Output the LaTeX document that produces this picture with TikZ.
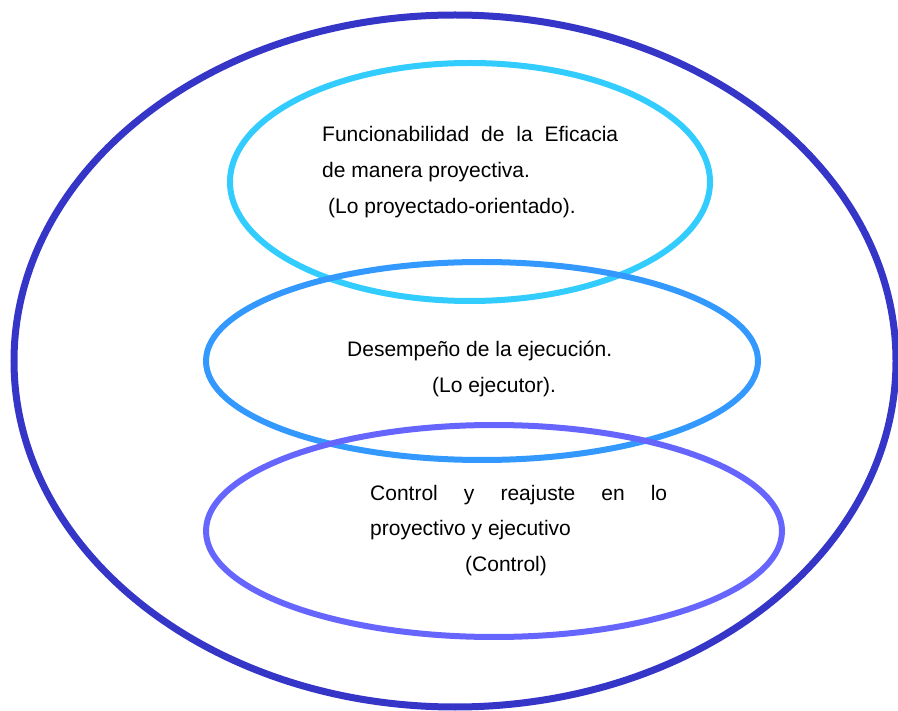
\documentclass[tikz,border=0pt]{standalone}
\usepackage{fontspec}
\setmainfont{Liberation Sans}
\usepackage{tikz}
\usetikzlibrary{shapes.geometric,positioning}
\definecolor{outerblue}{HTML}{3535C8}
\definecolor{ringcyan}{HTML}{33CCFF}
\definecolor{ringblue}{HTML}{3399FF}
\definecolor{ringviolet}{HTML}{6666FF}
\tikzset
{
    ring/.style     = {ellipse, draw=#1, line width=6pt, inner sep=0pt, outer sep=0pt},
    ringtext/.style = {anchor=base west, align=left, inner sep=0pt, font=\fontsize{21}{36}\selectfont}
}

\begin{document}
\begin{tikzpicture}[x=1pt, y=-1pt]
    \useasboundingbox (0,0) rectangle (898,711);
    \clip (0,0) rectangle (898,711);
    \node [ring=outerblue, line width=7pt, minimum width=882pt, minimum height=692pt] (outer) at (455,361) {};
    \node [ring=ringcyan, minimum width=480pt, minimum height=238pt] (proj) at (470,182) {};
    \node [ring=ringblue, minimum width=552pt, minimum height=198pt] (ejec) at (482,361) {};
    \node [ring=ringviolet, minimum width=576pt, minimum height=212pt] (ctrl) at (494,531) {};
    % textos (anclados en la ultima linea)
    \node [ringtext] (projtext) at (322,214)
    {
        \makebox[296pt][s]{Funcionabilidad de la Eficacia} \\
        de manera proyectiva. \\
        \hspace*{6pt}(Lo proyectado-orientado).
    };
    \node [ringtext] (ejectext) at (347,393)
    {
        Desempeño de la ejecución. \\
        \hspace*{85pt}(Lo ejecutor).
    };
    \node [ringtext] (ctrltext) at (370,572)
    {
        \makebox[297pt][s]{Control y reajuste en lo} \\
        proyectivo y ejecutivo \\
        \hspace*{95pt}(Control)
    };
\end{tikzpicture}
\end{document}
